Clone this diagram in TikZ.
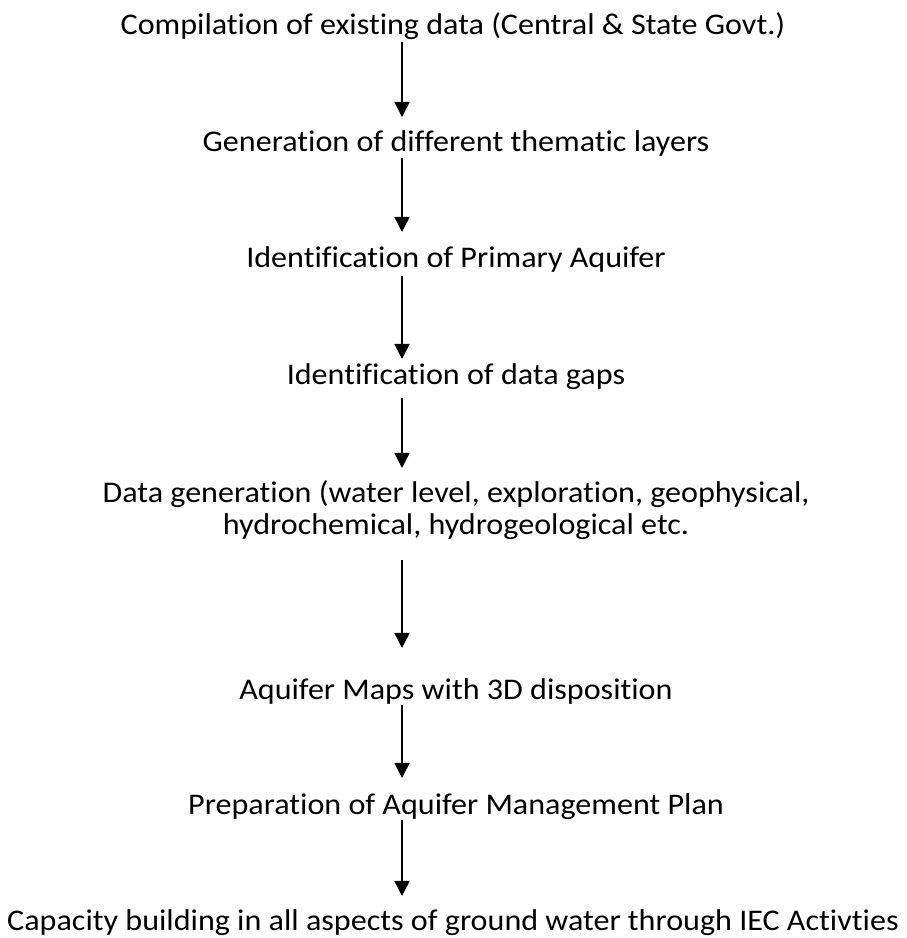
\documentclass[tikz,border=0pt]{standalone}
\usepackage{fontspec}
\setmainfont{Carlito}[Ligatures={NoCommon},FakeStretch=1.07]
\usetikzlibrary{arrows.meta}
\begin{document}
\begin{tikzpicture}[x=1pt,y=1pt,
  lbl/.style={anchor=base, inner sep=0pt, font=\fontsize{30}{36}\selectfont},
  arr/.style={line width=1.5pt, -{Triangle[width=15pt,length=15pt]}}]
\useasboundingbox (0,0) rectangle (907,938);
\node[lbl] (n1) at (453,903) {Compilation of existing data (Central \& State Govt.)};
\node[lbl] (n2) at (456,786) {Generation of different thematic layers};
\node[lbl] (n3) at (456,670) {Identification of Primary Aquifer};
\node[lbl] (n4) at (456,553) {Identification of data gaps};
\node[lbl] (n5) at (456,435) {Data generation (water level, exploration, geophysical,};
\node[lbl] (n5b) at (456,403) {hydrochemical, hydrogeological etc.};
\node[lbl] (n6) at (456,238) {Aquifer Maps with 3D disposition};
\node[lbl] (n7) at (456,123) {Preparation of Aquifer Management Plan};
\node[lbl] (n8) at (453,8) {Capacity building in all aspects of ground water through IEC Activties};
\draw[arr] ([xshift=-51pt,yshift=-7pt]n1.base) -- ([xshift=-54pt,yshift=35pt]n2.base);
\draw[arr] ([xshift=-54pt,yshift=-6pt]n2.base) -- ([xshift=-54pt,yshift=36pt]n3.base);
\draw[arr] ([xshift=-54pt,yshift=-8pt]n3.base) -- ([xshift=-54pt,yshift=26pt]n4.base);
\draw[arr] ([xshift=-54pt,yshift=-13pt]n4.base) -- ([xshift=-54pt,yshift=35pt]n5.base);
\draw[arr] ([xshift=-54pt,yshift=-25pt]n5b.base) -- ([xshift=-54pt,yshift=52pt]n6.base);
\draw[arr] ([xshift=-54pt,yshift=-5pt]n6.base) -- ([xshift=-54pt,yshift=37pt]n7.base);
\draw[arr] ([xshift=-54pt,yshift=-5pt]n7.base) -- ([xshift=-51pt,yshift=34pt]n8.base);
\end{tikzpicture}
\end{document}
